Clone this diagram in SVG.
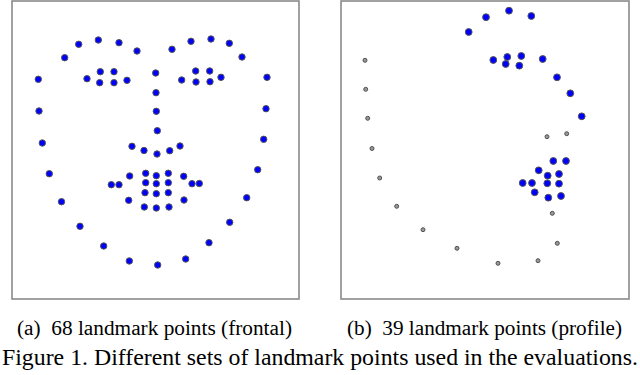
<svg xmlns="http://www.w3.org/2000/svg" width="640" height="375" viewBox="0 0 640 375">
<style>
.frame{fill:#fff;stroke:#8a8a8a;stroke-width:1.6}
.b{fill:#0000ff;stroke:#555;stroke-width:1}
.g{fill:#999;stroke:#444;stroke-width:0.9}
text{font-family:"Liberation Serif","Times New Roman",serif;fill:#000}
.sub{font-size:20px}
.cap{font-size:22.5px}
</style>
<rect width="640" height="375" fill="#fff"/>
<g id="panel-a">
<rect class="frame" x="12" y="1" width="287" height="298"/>
<g id="jaw-a">
<circle class="b" cx="38.3" cy="79.3" r="3.2"/>
<circle class="b" cx="39" cy="111" r="3.2"/>
<circle class="b" cx="42.3" cy="143" r="3.2"/>
<circle class="b" cx="49.3" cy="173.7" r="3.2"/>
<circle class="b" cx="61.5" cy="201.7" r="3.2"/>
<circle class="b" cx="80" cy="226.3" r="3.2"/>
<circle class="b" cx="103.7" cy="246" r="3.2"/>
<circle class="b" cx="129.3" cy="261" r="3.2"/>
<circle class="b" cx="157.7" cy="265" r="3.2"/>
<circle class="b" cx="185.7" cy="259" r="3.2"/>
<circle class="b" cx="209" cy="242.7" r="3.2"/>
<circle class="b" cx="229.7" cy="222.3" r="3.2"/>
<circle class="b" cx="246.7" cy="197.7" r="3.2"/>
<circle class="b" cx="257.7" cy="169.7" r="3.2"/>
<circle class="b" cx="263.7" cy="139.3" r="3.2"/>
<circle class="b" cx="266" cy="108.7" r="3.2"/>
<circle class="b" cx="267" cy="77.3" r="3.2"/>
</g>
<g id="brows-a">
<circle class="b" cx="64.7" cy="57.7" r="3.2"/>
<circle class="b" cx="78.7" cy="44.3" r="3.2"/>
<circle class="b" cx="98.3" cy="40" r="3.2"/>
<circle class="b" cx="119" cy="42.7" r="3.2"/>
<circle class="b" cx="137" cy="51" r="3.2"/>
<circle class="b" cx="172" cy="49.3" r="3.2"/>
<circle class="b" cx="191" cy="41.3" r="3.2"/>
<circle class="b" cx="211" cy="39" r="3.2"/>
<circle class="b" cx="229.3" cy="43.3" r="3.2"/>
<circle class="b" cx="242" cy="57" r="3.2"/>
</g>
<g id="eyes-a">
<circle class="b" cx="87" cy="78.7" r="3.2"/>
<circle class="b" cx="100.3" cy="71.7" r="3.2"/>
<circle class="b" cx="114" cy="71.7" r="3.2"/>
<circle class="b" cx="127" cy="80.3" r="3.2"/>
<circle class="b" cx="114" cy="82.7" r="3.2"/>
<circle class="b" cx="99.7" cy="82.7" r="3.2"/>
<circle class="b" cx="181.7" cy="80" r="3.2"/>
<circle class="b" cx="195.7" cy="71" r="3.2"/>
<circle class="b" cx="209.7" cy="71" r="3.2"/>
<circle class="b" cx="221" cy="77.3" r="3.2"/>
<circle class="b" cx="210" cy="81.7" r="3.2"/>
<circle class="b" cx="196" cy="82" r="3.2"/>
</g>
<g id="nose-a">
<circle class="b" cx="155.7" cy="73" r="3.2"/>
<circle class="b" cx="156" cy="92.7" r="3.2"/>
<circle class="b" cx="156.3" cy="111.3" r="3.2"/>
<circle class="b" cx="157.3" cy="130.7" r="3.2"/>
<circle class="b" cx="132" cy="146.3" r="3.2"/>
<circle class="b" cx="144" cy="150.5" r="3.2"/>
<circle class="b" cx="157" cy="154" r="3.2"/>
<circle class="b" cx="169.7" cy="150.7" r="3.2"/>
<circle class="b" cx="180" cy="146" r="3.2"/>
</g>
<g id="mouth-a">
<circle class="b" cx="111.3" cy="184.7" r="3.2"/>
<circle class="b" cx="129.7" cy="176" r="3.2"/>
<circle class="b" cx="145.7" cy="173.3" r="3.2"/>
<circle class="b" cx="156.3" cy="175.7" r="3.2"/>
<circle class="b" cx="168.3" cy="173.3" r="3.2"/>
<circle class="b" cx="183.7" cy="176.3" r="3.2"/>
<circle class="b" cx="199.3" cy="183.5" r="3.2"/>
<circle class="b" cx="184" cy="200" r="3.2"/>
<circle class="b" cx="169" cy="207" r="3.2"/>
<circle class="b" cx="156.3" cy="208" r="3.2"/>
<circle class="b" cx="144.3" cy="207" r="3.2"/>
<circle class="b" cx="128.7" cy="200.3" r="3.2"/>
<circle class="b" cx="119" cy="184.7" r="3.2"/>
<circle class="b" cx="145.7" cy="182.7" r="3.2"/>
<circle class="b" cx="156.3" cy="183.7" r="3.2"/>
<circle class="b" cx="168.3" cy="182.7" r="3.2"/>
<circle class="b" cx="192" cy="183.7" r="3.2"/>
<circle class="b" cx="168.3" cy="192.7" r="3.2"/>
<circle class="b" cx="156.3" cy="193.7" r="3.2"/>
<circle class="b" cx="145" cy="192.7" r="3.2"/>
</g>
<text class="sub" x="17" y="335" textLength="275" lengthAdjust="spacingAndGlyphs">(a)&#160; 68 landmark points (frontal)</text>
</g>
<g id="panel-b">
<rect class="frame" x="341" y="1" width="288" height="298"/>
<g id="outline-b">
<circle class="g" cx="365" cy="60.3" r="2"/>
<circle class="g" cx="365.7" cy="89.3" r="2"/>
<circle class="g" cx="367.7" cy="118.3" r="2"/>
<circle class="g" cx="372" cy="148.5" r="2"/>
<circle class="g" cx="379.7" cy="178" r="2"/>
<circle class="g" cx="396.7" cy="206.3" r="2"/>
<circle class="g" cx="423" cy="229.7" r="2"/>
<circle class="g" cx="457" cy="248.3" r="2"/>
<circle class="g" cx="498" cy="263.3" r="2"/>
<circle class="g" cx="538" cy="260.7" r="2"/>
<circle class="g" cx="557.3" cy="243.3" r="2"/>
<circle class="g" cx="552.3" cy="213.3" r="2"/>
<circle class="g" cx="547" cy="136.7" r="2"/>
<circle class="g" cx="566.7" cy="133.7" r="2"/>
</g>
<g id="brow-b">
<circle class="b" cx="468.7" cy="32" r="3.4"/>
<circle class="b" cx="486" cy="17.2" r="3.4"/>
<circle class="b" cx="509" cy="10.7" r="3.4"/>
<circle class="b" cx="531.3" cy="16" r="3.4"/>
</g>
<g id="eye-b">
<circle class="b" cx="493.3" cy="60" r="3.4"/>
<circle class="b" cx="507.3" cy="57" r="3.4"/>
<circle class="b" cx="521.3" cy="56" r="3.4"/>
<circle class="b" cx="505.7" cy="64" r="3.4"/>
<circle class="b" cx="519.3" cy="65.7" r="3.4"/>
<circle class="b" cx="542.7" cy="59" r="3.4"/>
</g>
<g id="nose-b">
<circle class="b" cx="557" cy="77.3" r="3.4"/>
<circle class="b" cx="570.3" cy="93.3" r="3.4"/>
<circle class="b" cx="581.7" cy="116.3" r="3.4"/>
</g>
<g id="mouth-b">
<circle class="b" cx="553.3" cy="161" r="3.4"/>
<circle class="b" cx="566" cy="161" r="3.4"/>
<circle class="b" cx="538.7" cy="170.3" r="3.4"/>
<circle class="b" cx="547.7" cy="175.7" r="3.4"/>
<circle class="b" cx="559" cy="174" r="3.4"/>
<circle class="b" cx="522.7" cy="183" r="3.4"/>
<circle class="b" cx="532" cy="183" r="3.4"/>
<circle class="b" cx="547.3" cy="183.3" r="3.4"/>
<circle class="b" cx="559" cy="183.7" r="3.4"/>
<circle class="b" cx="534.7" cy="192.3" r="3.4"/>
<circle class="b" cx="548.3" cy="197.7" r="3.4"/>
<circle class="b" cx="561" cy="196" r="3.4"/>
</g>
<text class="sub" x="347" y="335" textLength="275" lengthAdjust="spacingAndGlyphs">(b)&#160; 39 landmark points (profile)</text>
</g>
<text class="cap" x="2" y="365" textLength="636" lengthAdjust="spacingAndGlyphs">Figure 1. Different sets of landmark points used in the evaluations.</text>
</svg>
